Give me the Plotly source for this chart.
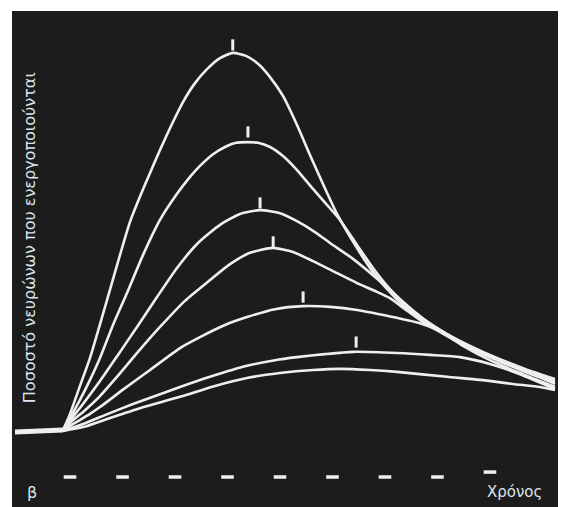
import plotly.graph_objects as go

# Time axis: bottom dashes mark time units 1..9; response: % of neurons activated (tallest peak = 100)
time_ticks = [1, 2, 3, 4, 5, 6, 7, 8, 9]
time_tick_level = [-11.9, -11.9, -11.9, -11.9, -11.9, -11.9, -11.9, -11.9, -10.6]

baseline_t = [-0.048, 0.50, 0.867]
baseline_v = [0.0, 0.2, 0.5]

t1 = [0.867, 1.000, 1.190, 1.381, 1.705, 2.143, 2.467, 2.714, 2.943, 3.152, 3.381, 3.610, 3.857, 4.105, 4.352, 4.581,
      4.810, 5.057, 5.324, 5.571, 5.819, 6.086, 6.429, 6.771, 7.095, 7.343, 7.762, 8.181, 8.619, 9.133, 9.667, 10.238]
v1 = [0.5, 4.8, 12.2, 19.6, 34.9, 55.6, 66.7, 74.6, 81.5, 87.3, 92.3, 96.0, 98.9, 100.3, 99.5, 97.4,
      93.9, 88.9, 81.2, 73.3, 65.6, 57.7, 49.5, 42.3, 37.0, 33.6, 29.4, 25.9, 22.8, 19.6, 16.7, 14.0]

t2 = [0.867, 1.000, 1.190, 1.381, 1.571, 1.819, 2.086, 2.390, 2.714, 3.038, 3.286, 3.476, 3.705, 3.952, 4.162, 4.371, 4.581,
      4.810, 5.057, 5.324, 5.629, 5.895, 6.143, 6.467, 6.771, 7.095, 7.343, 7.762, 8.181, 8.619, 9.133, 9.667, 10.238]
v2 = [0.5, 3.7, 8.5, 13.8, 19.6, 28.3, 36.8, 46.8, 56.1, 63.0, 67.5, 70.4, 73.3, 75.4, 76.5, 76.7, 76.5,
      75.4, 73.0, 69.3, 64.3, 60.1, 56.1, 49.5, 43.4, 37.8, 34.4, 29.6, 25.9, 22.5, 19.3, 16.4, 13.5]

t3 = [0.867, 1.038, 1.229, 1.571, 1.914, 2.276, 2.657, 3.038, 3.438, 3.857, 4.238, 4.619, 5.000, 5.324, 5.667, 5.952,
      6.371, 6.771, 7.095, 7.343, 7.762, 8.181, 8.619, 9.133, 9.667, 10.238]
v3 = [0.5, 3.7, 7.1, 13.5, 20.4, 27.8, 35.7, 43.4, 50.0, 54.8, 57.7, 58.7, 57.9, 55.8, 52.9, 50.0,
      46.0, 41.5, 37.6, 34.4, 29.6, 25.7, 22.2, 19.0, 15.9, 13.0]

t4 = [0.867, 1.038, 1.248, 1.571, 1.895, 2.295, 2.714, 3.190, 3.667, 4.048, 4.429, 4.867, 5.248, 5.629, 6.048, 6.467,
      6.810, 7.095, 7.381, 7.724, 8.143, 8.619, 9.190, 9.705, 10.238]
v4 = [0.5, 2.9, 5.3, 9.5, 14.6, 21.2, 27.8, 34.7, 40.2, 44.4, 47.4, 48.7, 47.6, 45.2, 42.3, 39.4,
      37.3, 35.4, 32.5, 29.1, 25.7, 22.2, 18.8, 15.9, 12.7]

t5 = [0.867, 1.095, 1.381, 1.571, 2.048, 2.524, 3.095, 3.476, 3.952, 4.371, 4.905, 5.438, 5.952, 6.467, 7.229, 7.667,
      8.048, 8.486, 9.000, 9.571, 10.238]
v5 = [0.5, 2.4, 4.8, 6.6, 11.6, 16.4, 22.2, 25.1, 28.3, 30.4, 32.5, 33.3, 33.1, 32.3, 30.2, 28.8,
      26.7, 22.8, 19.0, 15.6, 11.9]

t6 = [0.867, 1.248, 1.724, 2.200, 2.676, 3.095, 3.667, 4.371, 4.905, 5.324, 5.857, 6.390, 7.229, 7.857, 8.429,
      9.000, 9.571, 10.238]
v6 = [0.3, 2.1, 4.8, 7.4, 9.8, 11.9, 14.6, 17.5, 19.0, 19.8, 20.6, 21.2, 20.9, 20.4, 19.8,
      18.0, 15.3, 11.4]

t7 = [0.867, 1.248, 1.762, 2.333, 3.095, 3.762, 4.371, 5.000, 5.629, 6.143, 6.714, 7.229, 8.181, 8.810, 9.438,
      9.952, 10.238]
v7 = [0.3, 1.3, 3.7, 6.3, 9.3, 12.2, 14.3, 15.6, 16.4, 16.7, 16.4, 15.9, 14.6, 13.8, 12.7,
      11.9, 11.1]

peak_mark_t = [4.10, 4.39, 4.62, 4.87, 5.44, 6.45]
peak_mark_v = [102.4, 79.4, 60.6, 50.3, 35.7, 23.8]

y_label = "Ποσοστό νευρώνων που ενεργοποιούνται"
x_label = "Χρόνος"
panel_label = "β"

BG = "#1c1c1c"
TRACE = "#efefef"
TEXT = "#dde3ea"

fig = go.Figure()

fig.add_trace(go.Scatter(x=baseline_t, y=baseline_v, mode="lines",
                         line=dict(color=TRACE, width=5), hoverinfo="skip"))

for tt, vv in [(t1, v1), (t2, v2), (t3, v3), (t4, v4), (t5, v5), (t6, v6), (t7, v7)]:
    fig.add_trace(go.Scatter(x=tt, y=vv, mode="lines",
                             line=dict(color=TRACE, width=2.6, shape="spline", smoothing=0.6),
                             hoverinfo="skip"))

fig.add_trace(go.Scatter(x=peak_mark_t, y=peak_mark_v, mode="markers",
                         marker=dict(symbol="line-ns", size=8, line=dict(color=TRACE, width=3)),
                         hoverinfo="skip"))

fig.add_trace(go.Scatter(x=time_ticks, y=time_tick_level, mode="markers",
                         marker=dict(symbol="line-ew", size=9, line=dict(color=TRACE, width=3.5)),
                         hoverinfo="skip"))

fig.add_annotation(x=0.22, y=51.3, text=y_label, textangle=-90, showarrow=False,
                   font=dict(family="DejaVu Sans", size=16, color=TEXT),
                   xanchor="center", yanchor="middle")
fig.add_annotation(x=0.276, y=-15.9, text=panel_label, showarrow=False,
                   font=dict(family="DejaVu Sans", size=16, color=TEXT),
                   xanchor="center", yanchor="middle")
fig.add_annotation(x=9.46, y=-15.9, text=x_label, showarrow=False,
                   font=dict(family="DejaVu Sans", size=15, color=TEXT),
                   xanchor="center", yanchor="middle")

# page body has an 8px margin, so the figure is sized/offset to fill the window to its right/bottom edges
fig.update_layout(
    width=558, height=499,
    margin=dict(l=4, r=0, t=3, b=0, pad=0),
    paper_bgcolor="white", plot_bgcolor=BG,
    showlegend=False,
    xaxis=dict(visible=False, range=[-0.105, 10.448], fixedrange=True),
    yaxis=dict(visible=False, range=[-19.84, 111.38], fixedrange=True),
)

fig.write_html("out.html")
